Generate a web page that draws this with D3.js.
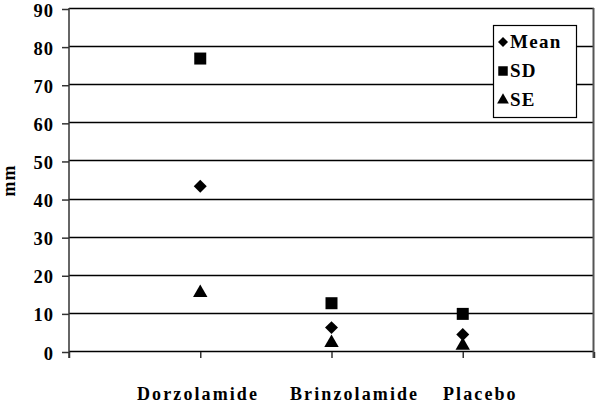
<!DOCTYPE html>
<html>
<head>
<meta charset="utf-8">
<script src="https://cdn.jsdelivr.net/npm/d3@7"></script>
<style>
  body { margin: 0; background: #fff; }
  text { font-family: "Liberation Serif", "Times New Roman", serif; font-weight: bold; fill: #000; }
</style>
</head>
<body>
<div id="chart"></div>
<script>
// datos
const categorias = ["Dorzolamide", "Brinzolamide", "Placebo"];
const mean = [43.5, 6.4, 4.6];
const sd = [77, 12.8, 10];
const se = [15.5, 2.4, 1.7];
const yTicks = [0, 10, 20, 30, 40, 50, 60, 70, 80, 90];
const serieNombres = ["Mean", "SD", "SE"];

const W = 600, H = 405;
const margin = { top: 9, right: 6, bottom: 53, left: 69 };
const width = W - margin.left - margin.right;
const height = H - margin.top - margin.bottom;

const svg = d3.select("#chart").append("svg")
    .attr("width", W)
    .attr("height", H);

const g = svg.append("g")
    .attr("transform", "translate(" + margin.left + "," + margin.top + ")");

// el eje tiene una posicion vacia a cada lado
const slots = ["_a"].concat(categorias).concat(["_b"]);
const x = d3.scalePoint().domain(slots).range([0, width]);
const y = d3.scaleLinear().domain([0, 90]).range([height, 0]);

// lineas de grilla
g.selectAll(".grid")
    .data(yTicks)
    .join("line")
    .attr("class", "grid")
    .attr("x1", 0)
    .attr("x2", width)
    .attr("y1", d => Math.round(y(d)) - 0.5)
    .attr("y2", d => Math.round(y(d)) - 0.5)
    .attr("stroke", "#000")
    .attr("stroke-width", 1.5);

// borde derecho
g.append("line")
    .attr("x1", width - 0.5).attr("x2", width - 0.5)
    .attr("y1", -1).attr("y2", height + 6)
    .attr("stroke", "#555").attr("stroke-width", 2);

// eje y
const yAxis = d3.axisLeft(y).tickValues(yTicks).tickSize(7).tickPadding(8);
const ya = g.append("g").call(yAxis);
ya.select(".domain").attr("stroke", "#333").attr("stroke-width", 1.5)
    .attr("d", "M0," + (height + 6) + "V-1");
ya.selectAll(".tick line").attr("stroke", "#333").attr("stroke-width", 1.5);
ya.selectAll(".tick text")
    .style("font-size", "18.5px")
    .style("letter-spacing", "1px")
    .attr("dy", "0.38em");

// eje x (solo marcas)
const xAxis = d3.axisBottom(x).tickSize(6).tickFormat("");
const xa = g.append("g").attr("transform", "translate(0," + height + ")").call(xAxis);
xa.select(".domain").remove();
xa.selectAll(".tick line").attr("stroke", "#333").attr("stroke-width", 1.5);

// etiquetas de categorias
const xLabel = d3.scalePoint().domain(categorias).range([137, 443]);
svg.selectAll(".cat")
    .data(categorias)
    .join("text")
    .attr("class", "cat")
    .attr("x", d => xLabel(d))
    .attr("y", 400)
    .style("font-size", "18px")
    .style("letter-spacing", "2.1px")
    .text(d => d);

// titulo eje y
svg.append("text")
    .attr("transform", "translate(15," + (margin.top + height / 2) + ") rotate(-90)")
    .attr("text-anchor", "middle")
    .style("font-size", "18px")
    .style("letter-spacing", "1px")
    .text("mm");

// rombo cuadrado (como el de Excel)
const rombo = {
    draw(ctx, size) {
        const r = Math.sqrt(size / 2);
        ctx.moveTo(0, -r); ctx.lineTo(r, 0); ctx.lineTo(0, r); ctx.lineTo(-r, 0); ctx.closePath();
    }
};

// simbolos
const simbolos = [rombo, d3.symbolSquare, d3.symbolTriangle];
const tamanos = [84, 144, 90];
const series = [mean, sd, se];

series.forEach((serie, i) => {
    g.selectAll(".s" + i)
        .data(serie)
        .join("path")
        .attr("class", "s" + i)
        .attr("transform", (d, j) => "translate(" + x(categorias[j]) + "," + y(d) + ")")
        .attr("d", d3.symbol().type(simbolos[i]).size(tamanos[i]))
        .attr("fill", "#000");
});

// leyenda
const leg = svg.append("g").attr("transform", "translate(493,25)");
leg.append("rect")
    .attr("x", 0.5).attr("y", 0.5)
    .attr("width", 83).attr("height", 92)
    .attr("fill", "#fff")
    .attr("stroke", "#000")
    .attr("stroke-width", 1.2);
const legTamanos = [50, 90, 60];
serieNombres.forEach((nombre, i) => {
    const cy = 17 + i * 29;
    leg.append("path")
        .attr("transform", "translate(10," + cy + ")")
        .attr("d", d3.symbol().type(simbolos[i]).size(legTamanos[i]))
        .attr("fill", "#000");
    leg.append("text")
        .attr("x", 17)
        .attr("y", cy + 6)
        .style("font-size", "19px")
        .style("letter-spacing", "1.3px")
        .text(nombre);
});
</script>
</body>
</html>
